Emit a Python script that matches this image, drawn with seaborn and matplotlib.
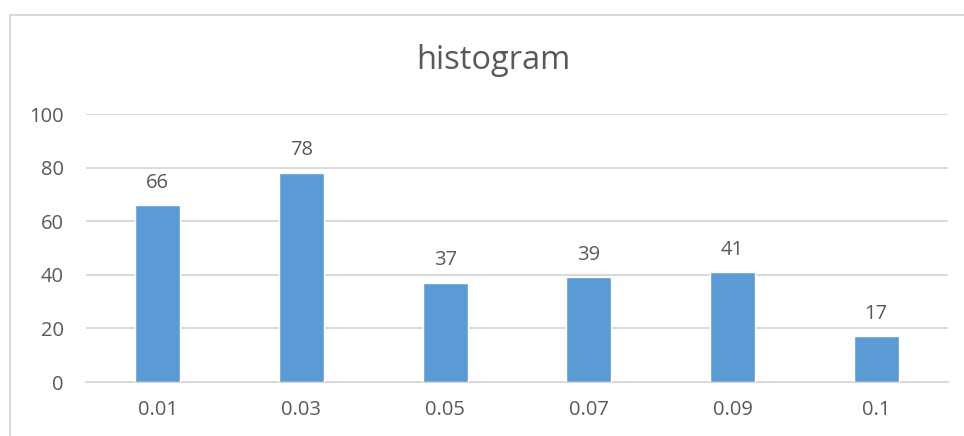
import matplotlib
matplotlib.use("Agg")
import matplotlib.pyplot as plt
import seaborn as sns
import pandas as pd
from matplotlib.lines import Line2D

bins = ["0.01", "0.03", "0.05", "0.07", "0.09", "0.1"]
counts = [66, 78, 37, 39, 41, 17]
y_ticks = [0, 20, 40, 60, 80, 100]

sns.set_theme(style="white")
plt.rcParams["font.family"] = ["Open Sans", "DejaVu Sans"]

text_color = "#595959"
grid_color = "#D9D9D9"
bar_color = "#5B9BD5"

df = pd.DataFrame({"bin": bins, "count": counts})

fig = plt.figure(figsize=(9.64, 4.36), dpi=100)
ax = fig.add_axes([86 / 964, 1 - 382 / 436, (948 - 86) / 964, (382 - 114) / 436])

sns.barplot(data=df, x="bin", y="count", color=bar_color, saturation=1,
            width=0.315, ax=ax, zorder=3)

ax.set_ylim(0, 100)
ax.set_xlim(-0.5, len(bins) - 0.5)
ax.set_yticks(y_ticks)
ax.set_yticklabels([str(t) for t in y_ticks])
ax.yaxis.grid(True, color=grid_color, linewidth=1.4, zorder=0)
ax.set_axisbelow(True)
for side in ["top", "right", "left"]:
    ax.spines[side].set_visible(False)
ax.spines["bottom"].set_color(grid_color)
ax.spines["bottom"].set_linewidth(1.4)
ax.set_xlabel("")
ax.set_ylabel("")
ax.tick_params(axis="both", length=0, labelsize=14.5, colors=text_color)
ax.tick_params(axis="y", pad=16)
ax.tick_params(axis="x", pad=13)

for i, v in enumerate(counts):
    ax.annotate(str(v), (i, v), xytext=(0, 9), textcoords="offset points",
                ha="center", va="bottom", fontsize=14.5, color=text_color)

fig.text(0.512, 1 - 60 / 436, "histogram", ha="center", va="center",
         fontsize=23.5, color=text_color)

# chart frame
fig.add_artist(Line2D([10 / 964, 1.0], [1 - 15 / 436] * 2, color=grid_color,
                      linewidth=1.5, transform=fig.transFigure))
fig.add_artist(Line2D([10 / 964] * 2, [0.0, 1 - 15 / 436], color=grid_color,
                      linewidth=1.5, transform=fig.transFigure))

fig.savefig("out.png", dpi=100)
